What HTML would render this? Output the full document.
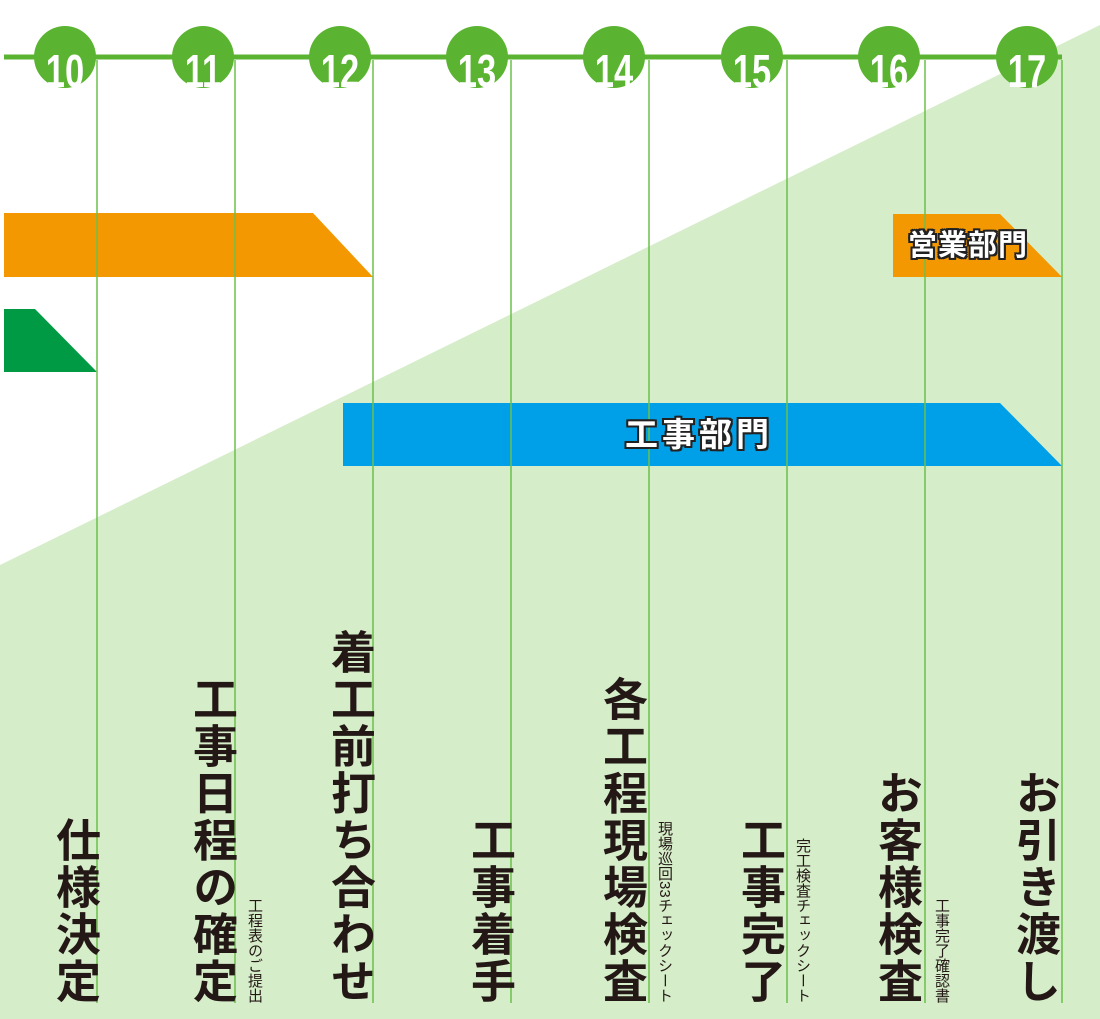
<!DOCTYPE html>
<html><head><meta charset="utf-8"><style>
body{margin:0;width:1100px;height:1019px;overflow:hidden;background:#fff;position:relative;font-family:"Liberation Sans","Noto Sans CJK JP",sans-serif}
svg{position:absolute;left:0;top:0}
.v{position:absolute;bottom:14px;writing-mode:vertical-rl;font-weight:bold;font-size:45px;letter-spacing:2px;line-height:1;color:#231815;white-space:nowrap}
.s{position:absolute;bottom:16px;writing-mode:vertical-rl;font-size:15px;line-height:1;color:#231815;white-space:nowrap;letter-spacing:0}
.lab{position:absolute;font-weight:bold;color:#fff;white-space:nowrap;line-height:1;text-shadow:-2px -2px 0 #222,2px -2px 0 #222,-2px 2px 0 #222,2px 2px 0 #222,0 2px 0 #222,0 -2px 0 #222,2px 0 0 #222,-2px 0 0 #222}
.n{position:absolute;width:62px;text-align:center;top:48px;font-weight:bold;font-size:46px;color:#fff;line-height:1;font-family:"Liberation Sans Narrow","Liberation Sans",sans-serif;transform:scaleX(0.75);height:40px;overflow:hidden}
</style></head><body>
<svg width="1100" height="1019">
<polygon points="0,565 1100,25 1100,1019 0,1019" fill="#d6edca"/>
<polygon points="4,213 313,213 373,277 4,277" fill="#f39800"/>
<polygon points="4,309 35,309 97,372 4,372" fill="#009944"/>
<polygon points="343,403 1000,403 1062,466 343,466" fill="#00a0e9"/>
<polygon points="893,214 1000,214 1062,277 893,277" fill="#f39800"/>
<g stroke="#6cc04a" stroke-width="1.5">
<line x1="97" y1="60" x2="97" y2="1003"/><line x1="235" y1="60" x2="235" y2="1003"/>
<line x1="373" y1="60" x2="373" y2="1003"/><line x1="511" y1="60" x2="511" y2="1003"/>
<line x1="649" y1="60" x2="649" y2="1003"/><line x1="787" y1="60" x2="787" y2="1003"/>
<line x1="925" y1="60" x2="925" y2="1003"/><line x1="1062" y1="60" x2="1062" y2="1003"/>
</g>
<line x1="4" y1="57" x2="1062" y2="57" stroke="#5bb431" stroke-width="5"/>
<g fill="#5bb431">
<circle cx="65" cy="57" r="31"/><circle cx="203" cy="57" r="31"/><circle cx="340" cy="57" r="31"/><circle cx="477" cy="57" r="31"/>
<circle cx="614" cy="57" r="31"/><circle cx="752" cy="57" r="31"/><circle cx="889" cy="57" r="31"/><circle cx="1027" cy="57" r="31"/>
</g>
</svg>
<div class="n" style="left:34px">10</div><div class="n" style="left:172px">11</div><div class="n" style="left:309px">12</div><div class="n" style="left:446px">13</div>
<div class="n" style="left:583px">14</div><div class="n" style="left:721px">15</div><div class="n" style="left:858px">16</div><div class="n" style="left:996px">17</div>
<div class="lab" style="left:908px;top:232px;font-size:29px;letter-spacing:1px">営業部門</div>
<div class="lab" style="left:625px;top:418px;font-size:33px;letter-spacing:4px">工事部門</div>
<div class="v" style="left:52px">仕様決定</div>
<div class="v" style="left:189px">工事日程の確定</div>
<div class="s" style="left:247px">工程表のご提出</div>
<div class="v" style="left:327px">着工前打ち合わせ</div>
<div class="v" style="left:467px">工事着手</div>
<div class="v" style="left:599px">各工程現場検査</div>
<div class="s" style="left:657px">現場巡回33チェックシート</div>
<div class="v" style="left:737px">工事完了</div>
<div class="s" style="left:795px">完工検査チェックシート</div>
<div class="v" style="left:874px">お客様検査</div>
<div class="s" style="left:934px">工事完了確認書</div>
<div class="v" style="left:1012px">お引き渡し</div>
</body></html>
